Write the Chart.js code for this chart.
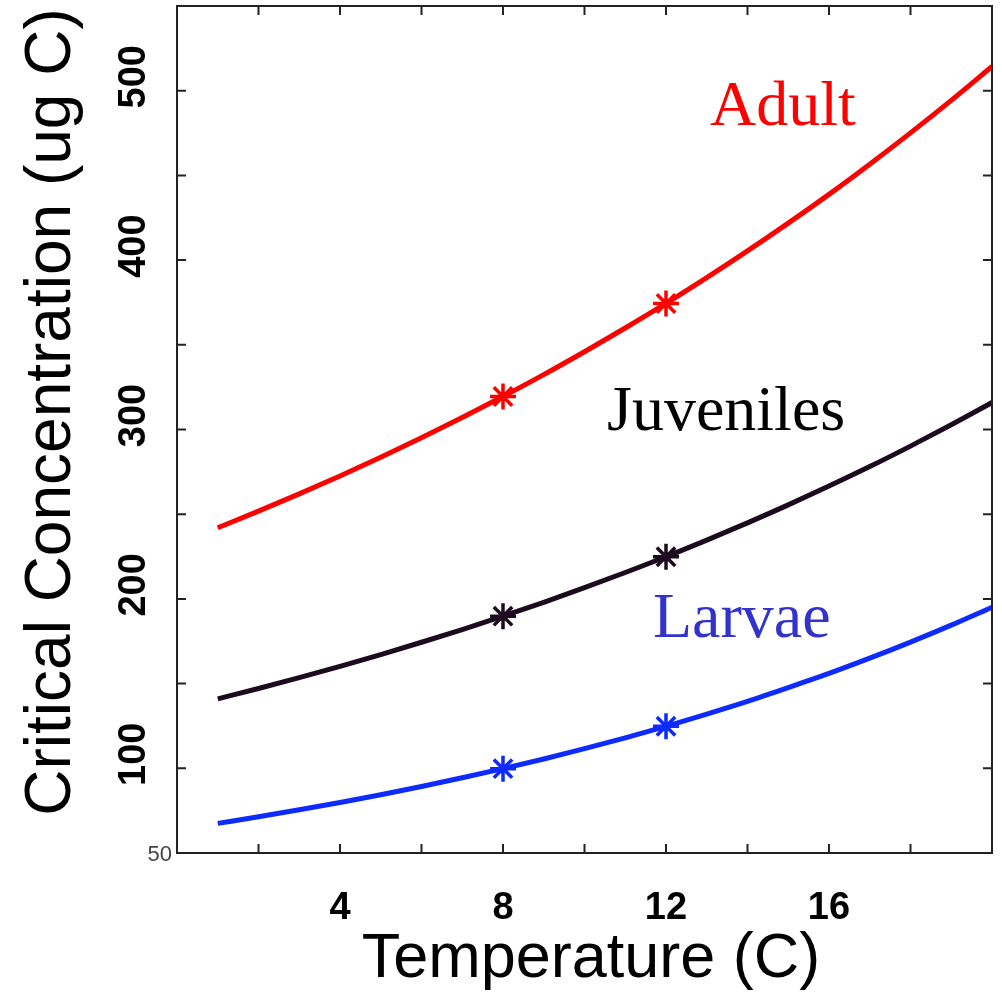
<!DOCTYPE html>
<html>
<head>
<meta charset="utf-8">
<script src="https://cdn.jsdelivr.net/npm/chart.js@4/dist/chart.umd.min.js"></script>
<style>
  html, body { margin: 0; padding: 0; background: #fff; }
  #chart { display: block; }
</style>
</head>
<body>
<canvas id="chart" width="1002" height="1000"></canvas>
<script>
// temperature (C) and critical concentration (ug C)
const temps = [1, 2, 3, 4, 5, 6, 7, 8, 9, 10, 11, 12, 13, 14, 15, 16, 17, 18, 19, 20];
const adult = [242, 251.8, 262, 272.6, 283.6, 295.1, 307.1, 319.5, 332.4, 345.9, 359.9, 374.4, 389.6, 405.4, 421.8, 438.8, 456.6, 475.1, 494.3, 514.3];
const juveniles = [141, 147.1, 153.5, 160.2, 167.1, 174.4, 181.9, 189.8, 198, 206.6, 215.6, 224.9, 234.7, 244.9, 255.5, 266.6, 278.1, 290.2, 302.8, 315.9];
const larvae = [67.5, 71.4, 75.5, 79.8, 84.4, 89.3, 94.4, 99.8, 105.5, 111.6, 118, 124.8, 132, 139.5, 147.6, 156, 165, 174.5, 184.5, 195.1];
const markerTemps = [8, 12];

const xTicks = [2, 4, 6, 8, 10, 12, 14, 16, 18];
const xTickLabels = [4, 8, 12, 16];
const yTicks = [100, 150, 200, 250, 300, 350, 400, 450, 500];
const yTickLabels = [100, 200, 300, 400, 500];

const SANS = '"Liberation Sans", Arial, sans-serif';
const SERIF = '"Liberation Serif", "Times New Roman", serif';

function series(values, color) {
  return {
    data: temps.map((t, i) => ({ x: t, y: values[i] })),
    borderColor: color,
    backgroundColor: color,
    borderWidth: 5,
    cubicInterpolationMode: "monotone",
    pointStyle: "star",
    pointRadius: (c) => (markerTemps.includes(temps[c.dataIndex]) ? 13 : 0),
    pointBorderWidth: 3.5,
    pointBorderColor: color,
    pointHoverRadius: 0
  };
}

// box, inward ticks, labels and the series names
const decor = {
  id: "decor",
  afterDraw(chart) {
    const { ctx, chartArea: a, scales } = chart;
    const xs = scales.x;
    const ys = scales.y;
    ctx.save();

    ctx.strokeStyle = "#222";
    ctx.lineWidth = 2;
    ctx.strokeRect(a.left, a.top, a.right - a.left, a.bottom - a.top);

    ctx.beginPath();
    xTicks.forEach((t) => {
      const px = xs.getPixelForValue(t);
      ctx.moveTo(px, a.bottom); ctx.lineTo(px, a.bottom - 9);
      ctx.moveTo(px, a.top); ctx.lineTo(px, a.top + 9);
    });
    yTicks.forEach((t) => {
      const py = ys.getPixelForValue(t);
      ctx.moveTo(a.left, py); ctx.lineTo(a.left + 9, py);
      ctx.moveTo(a.right, py); ctx.lineTo(a.right - 9, py);
    });
    ctx.stroke();

    ctx.fillStyle = "#000";
    ctx.font = "bold 38px " + SANS;
    ctx.textAlign = "center";
    ctx.textBaseline = "alphabetic";
    xTickLabels.forEach((t) => {
      ctx.fillText(String(t), xs.getPixelForValue(t), 919);
    });

    yTickLabels.forEach((t) => {
      ctx.save();
      ctx.translate(145, ys.getPixelForValue(t) - 14);
      ctx.rotate(-Math.PI / 2);
      ctx.fillText(String(t), 0, 0);
      ctx.restore();
    });

    ctx.fillStyle = "#444";
    ctx.font = "22px " + SANS;
    ctx.textAlign = "right";
    ctx.fillText("50", 172, ys.getPixelForValue(50) + 8);

    ctx.fillStyle = "#000";
    ctx.font = "63px " + SANS;
    ctx.textAlign = "center";
    ctx.fillText("Temperature (C)", 591, 977);

    ctx.save();
    ctx.translate(70, 412);
    ctx.rotate(-Math.PI / 2);
    ctx.font = "64px " + SANS;
    ctx.fillText("Critical Concentration (ug C)", 0, 0);
    ctx.restore();

    ctx.font = "64px " + SERIF;
    ctx.textAlign = "left";
    ctx.fillStyle = "#ff0000";
    ctx.fillText("Adult", 710, 125);
    ctx.fillStyle = "#000";
    ctx.fillText("Juveniles", 607, 430);
    ctx.fillStyle = "#3333cc";
    ctx.fillText("Larvae", 653, 637);

    ctx.restore();
  }
};

new Chart(document.getElementById("chart"), {
  type: "line",
  data: {
    datasets: [
      series(adult, "#ff0000"),
      series(juveniles, "#1c0a1e"),
      series(larvae, "#0d2bff")
    ]
  },
  options: {
    responsive: false,
    animation: false,
    devicePixelRatio: 1,
    layout: { padding: { left: 177, top: 6, right: 10, bottom: 147 } },
    plugins: { legend: { display: false }, tooltip: { enabled: false } },
    scales: {
      x: { type: "linear", min: 0, max: 20, display: false },
      y: { type: "linear", min: 50, max: 550, display: false }
    }
  },
  plugins: [decor]
});
</script>
</body>
</html>
